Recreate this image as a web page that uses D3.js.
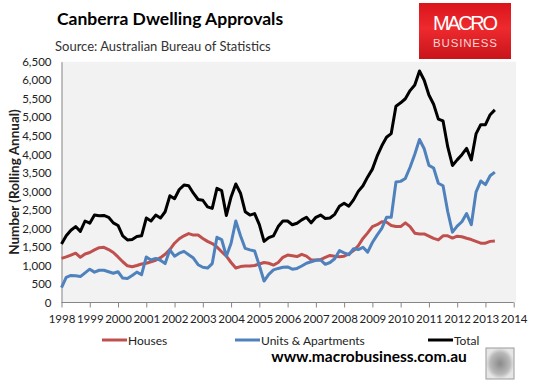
<!DOCTYPE html>
<html><head><meta charset="utf-8">
<script src="https://cdn.jsdelivr.net/npm/d3@7"></script>
<style>body{margin:0;background:#fff} svg{display:block}</style>
</head><body><svg id="c" width="533" height="386"></svg>
<script>
// Bi-monthly observation dates (YYYY-MM)
const months = [
 "1998-01","1998-03","1998-05","1998-07","1998-09","1998-11",
 "1999-01","1999-03","1999-05","1999-07","1999-09","1999-11",
 "2000-01","2000-03","2000-05","2000-07","2000-09","2000-11",
 "2001-01","2001-03","2001-05","2001-07","2001-09","2001-11",
 "2002-01","2002-03","2002-05","2002-07","2002-09","2002-11",
 "2003-01","2003-03","2003-05","2003-07","2003-09","2003-11",
 "2004-01","2004-03","2004-05","2004-07","2004-09","2004-11",
 "2005-01","2005-03","2005-05","2005-07","2005-09","2005-11",
 "2006-01","2006-03","2006-05","2006-07","2006-09","2006-11",
 "2007-01","2007-03","2007-05","2007-07","2007-09","2007-11",
 "2008-01","2008-03","2008-05","2008-07","2008-09","2008-11",
 "2009-01","2009-03","2009-05","2009-07","2009-09","2009-11",
 "2010-01","2010-03","2010-05","2010-07","2010-09","2010-11",
 "2011-01","2011-03","2011-05","2011-07","2011-09","2011-11",
 "2012-01","2012-03","2012-05","2012-07","2012-09","2012-11",
 "2013-01","2013-03","2013-05"
];
const houses = [
 1190,1230,1280,1330,1220,1310,
 1350,1420,1480,1490,1430,1350,
 1230,1100,990,965,1000,1040,
 1060,1100,1140,1210,1300,1430,
 1600,1720,1800,1860,1820,1820,
 1730,1650,1590,1500,1370,1250,
 1080,930,970,985,985,1000,
 1040,1080,1060,1010,1080,1220,
 1280,1260,1240,1300,1250,1150,
 1150,1160,1220,1270,1250,1235,
 1250,1310,1400,1530,1730,1880,
 2050,2100,2180,2170,2080,2050,
 2050,2150,2050,1870,1850,1850,
 1790,1730,1690,1800,1800,1740,
 1790,1775,1735,1700,1650,1600,
 1600,1650,1660
];
const units = [
 400,680,730,720,700,800,
 900,820,870,870,830,790,
 830,660,650,730,820,750,
 1230,1150,1190,1140,1050,1420,
 1250,1330,1380,1290,1200,1020,
 950,930,1050,1760,1700,1250,
 1600,2200,1800,1460,1420,1390,
 1000,580,760,880,920,950,
 960,900,920,985,1060,1100,
 1140,1150,1030,1080,1180,1400,
 1340,1290,1450,1430,1490,1360,
 1620,1820,2000,2300,2300,3250,
 3270,3350,3650,4000,4400,4150,
 3700,3630,3220,3150,2450,1900,
 2060,2180,2400,2100,2980,3280,
 3180,3420,3520
];
const total = [
 1580,1800,1950,2050,1920,2200,
 2140,2360,2340,2350,2300,2150,
 2080,1800,1690,1700,1780,1800,
 2280,2200,2360,2280,2450,2880,
 2800,3050,3170,3150,2950,2780,
 2760,2580,2540,3080,3020,2350,
 2850,3200,2950,2450,2360,2400,
 2100,1650,1750,1800,2050,2200,
 2200,2100,2140,2230,2300,2150,
 2300,2360,2270,2280,2380,2600,
 2680,2600,2770,3000,3150,3390,
 3600,3950,4230,4460,4560,5300,
 5390,5500,5720,5870,6250,6000,
 5600,5350,4950,4900,4200,3700,
 3850,3990,4160,3850,4550,4800,
 4800,5070,5200
];
const seriesNames = ["Houses", "Units & Apartments", "Total"];
const seriesColors = ["#C0504D", "#4F81BD", "#000000"];
const yTicks = [0,500,1000,1500,2000,2500,3000,3500,4000,4500,5000,5500,6000,6500];
const xTicks = [1998,1999,2000,2001,2002,2003,2004,2005,2006,2007,2008,2009,2010,2011,2012,2013,2014];

const svg = d3.select("#c");
const font = "Lato, 'Open Sans', sans-serif";

const L = 61.5, R = 513.7, T = 61.7, B = 302.5;
const x = d3.scaleLinear().domain([1998, 2014]).range([L, R]);
const y = d3.scaleLinear().domain([0, 6500]).range([B, T]);

const toYear = s => { const [yy, mm] = s.split("-").map(Number); return yy + (mm - 1) / 12; };
const dates = months.map(toYear);

// Plot background
svg.append("rect").attr("x", L).attr("y", T).attr("width", 516 - L).attr("height", B - T).attr("fill", "#f2f2f2");

// Y axis
const yAxis = svg.append("g").attr("transform", `translate(${L},0)`)
  .call(d3.axisLeft(y).tickValues(yTicks).tickSize(0).tickPadding(10).tickFormat(d3.format(",")));
yAxis.select(".domain").attr("stroke", "#868686");
yAxis.selectAll("text").attr("font-family", font).attr("font-size", 11.5).attr("fill", "#222");

// X axis
const xAxis = svg.append("g").attr("transform", `translate(0,${B})`)
  .call(d3.axisBottom(x).tickValues(xTicks).tickSize(5).tickPadding(7).tickFormat(d3.format("d")));
xAxis.select(".domain").attr("stroke", "#868686").attr("d", `M${L},0H${R}`);
xAxis.selectAll("line").attr("stroke", "#868686");
xAxis.selectAll("text").attr("font-family", font).attr("font-size", 11.5).attr("fill", "#222");

// Lines
const seriesData = [houses, units, total];
const line = d3.line().x((d, i) => x(dates[i])).y(d => y(d));
seriesData.forEach((vals, k) => {
  svg.append("path").datum(vals).attr("d", line)
    .attr("fill", "none").attr("stroke", seriesColors[k]).attr("stroke-width", 3)
    .attr("stroke-linejoin", "round");
});

// Y axis title
svg.append("text").attr("transform", "translate(19,182) rotate(-90)")
  .attr("text-anchor", "middle").attr("font-family", font).attr("font-weight", "bold")
  .attr("font-size", 13.5).attr("fill", "#222").text("Number (Rolling Annual)");

// Title & subtitle
svg.append("text").attr("x", 170).attr("y", 25).attr("text-anchor", "middle")
  .attr("font-family", font).attr("font-weight", "bold").attr("font-size", 17.5).attr("fill", "#000")
  .text("Canberra Dwelling Approvals");
svg.append("text").attr("x", 55).attr("y", 51)
  .attr("font-family", font).attr("font-size", 13).attr("fill", "#333")
  .text("Source: Australian Bureau of Statistics");

// Legend
const legX = [102, 235, 428];
seriesNames.forEach((n, k) => {
  svg.append("line").attr("x1", legX[k]).attr("x2", legX[k] + 25).attr("y1", 340).attr("y2", 340)
    .attr("stroke", seriesColors[k]).attr("stroke-width", 3);
  svg.append("text").attr("x", legX[k] + 26).attr("y", 344.5)
    .attr("font-family", font).attr("font-size", 12).attr("fill", "#222").text(n);
});

// URL
svg.append("text").attr("x", 369).attr("y", 362).attr("text-anchor", "middle")
  .attr("font-family", font).attr("font-weight", "bold").attr("font-size", 15.5).attr("fill", "#000")
  .text("www.macrobusiness.com.au");

// Logo
const defs = svg.append("defs");
const g1 = defs.append("linearGradient").attr("id", "lg").attr("x1", 0).attr("y1", 0).attr("x2", 0).attr("y2", 1);
g1.append("stop").attr("offset", "0%").attr("stop-color", "#d9141b");
g1.append("stop").attr("offset", "45%").attr("stop-color", "#ee2a2e");
g1.append("stop").attr("offset", "100%").attr("stop-color", "#c8141a");
svg.append("rect").attr("x", 419).attr("y", 3).attr("width", 92).attr("height", 56).attr("fill", "url(#lg)");
svg.append("text").attr("x", 465.5).attr("y", 30).attr("text-anchor", "middle")
  .attr("font-family", "'Liberation Sans', Arial, sans-serif").attr("font-size", 20).attr("fill", "#fff")
  .attr("textLength", 65).text("MACRO");
svg.append("text").attr("x", 465.5).attr("y", 47).attr("text-anchor", "middle")
  .attr("font-family", "'Liberation Sans', Arial, sans-serif").attr("font-size", 11.5).attr("fill", "#fbd5d5")
  .attr("textLength", 65).attr("letter-spacing", 1).text("BUSINESS");

// Wolf thumbnail placeholder
const g2 = defs.append("radialGradient").attr("id", "wg");
g2.append("stop").attr("offset", "0%").attr("stop-color", "#8a8a8a");
g2.append("stop").attr("offset", "70%").attr("stop-color", "#b8b8b8");
g2.append("stop").attr("offset", "100%").attr("stop-color", "#e6e6e6");
svg.append("rect").attr("x", 486).attr("y", 348).attr("width", 28).attr("height", 31)
  .attr("fill", "url(#wg)").attr("stroke", "#9a9a9a");
</script></body></html>
